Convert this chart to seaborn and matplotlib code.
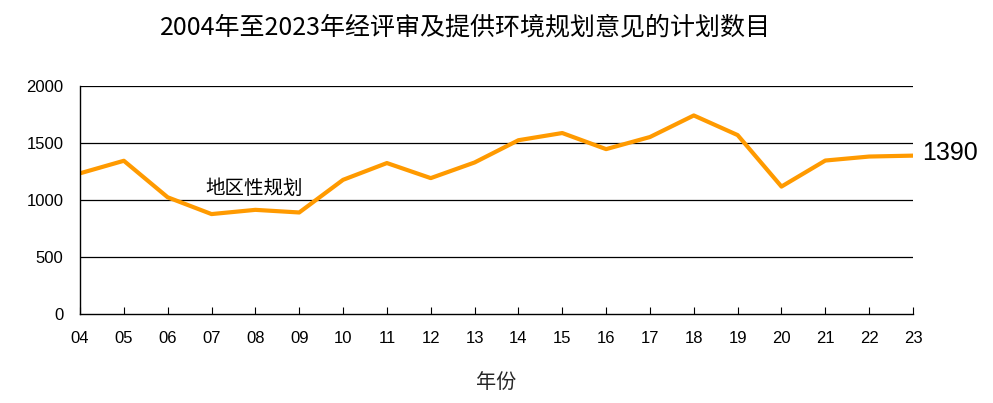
import matplotlib
matplotlib.use("Agg")
import matplotlib.pyplot as plt
import seaborn as sns
import pandas as pd

years = ["04", "05", "06", "07", "08", "09", "10", "11", "12", "13",
         "14", "15", "16", "17", "18", "19", "20", "21", "22", "23"]
plans = [1235, 1345, 1025, 878, 915, 892, 1178, 1325, 1193, 1330,
         1525, 1588, 1447, 1553, 1742, 1570, 1119, 1347, 1382, 1390]
yticks = [0, 500, 1000, 1500, 2000]
title = "2004年至2023年经评审及提供环境规划意见的计划数目"
series_label = "地区性规划"
xlabel = "年份"

sns.set_theme(style="white")
plt.rcParams['font.family'] = ['Liberation Sans', 'Noto Sans CJK SC', 'DejaVu Sans']

df = pd.DataFrame({"idx": range(len(years)), "plans": plans})

fig = plt.figure(figsize=(9.93, 4.03), dpi=100)
ax = fig.add_axes([80/993, 88.7/403, 833/993, 228.3/403])

sns.lineplot(data=df, x="idx", y="plans", ax=ax, color="#FF9A00", linewidth=3.0)

ax.set_xlim(0, len(years) - 1)
ax.set_ylim(0, 2000)
ax.set_yticks(yticks)
ax.set_yticklabels([str(v) for v in yticks], fontsize=12, color="black")
ax.set_xticks(range(len(years)))
ax.set_xticklabels(years, fontsize=12, color="black")
for v in yticks[1:]:
    ax.axhline(v, color="black", linewidth=0.9, zorder=0)

ax.tick_params(axis="x", direction="in", length=5, width=0.8, color="black", pad=12, bottom=True)
ax.tick_params(axis="y", length=0, pad=12, left=False)
for s in ["top", "right"]:
    ax.spines[s].set_visible(False)
for s in ["left", "bottom"]:
    ax.spines[s].set_color("black")
    ax.spines[s].set_linewidth(1.0)

ax.set_xlabel(xlabel, fontsize=14.5, family=['Noto Sans CJK SC'], labelpad=19)
ax.set_ylabel("")

ax.text(len(years) - 1 + 0.2, plans[-1] + 25, str(plans[-1]), fontsize=18,
        va="center", ha="left", color="black")
ax.text(3.97, 1100, series_label, fontsize=14, ha="center", va="center",
        family=['Noto Sans CJK SC'], color="black")

fig.text(465/993, 1 - 27/403, title, fontsize=18, ha="center", va="center",
         family=['Noto Sans CJK SC'], color="black")

fig.savefig("out.png", dpi=100)
